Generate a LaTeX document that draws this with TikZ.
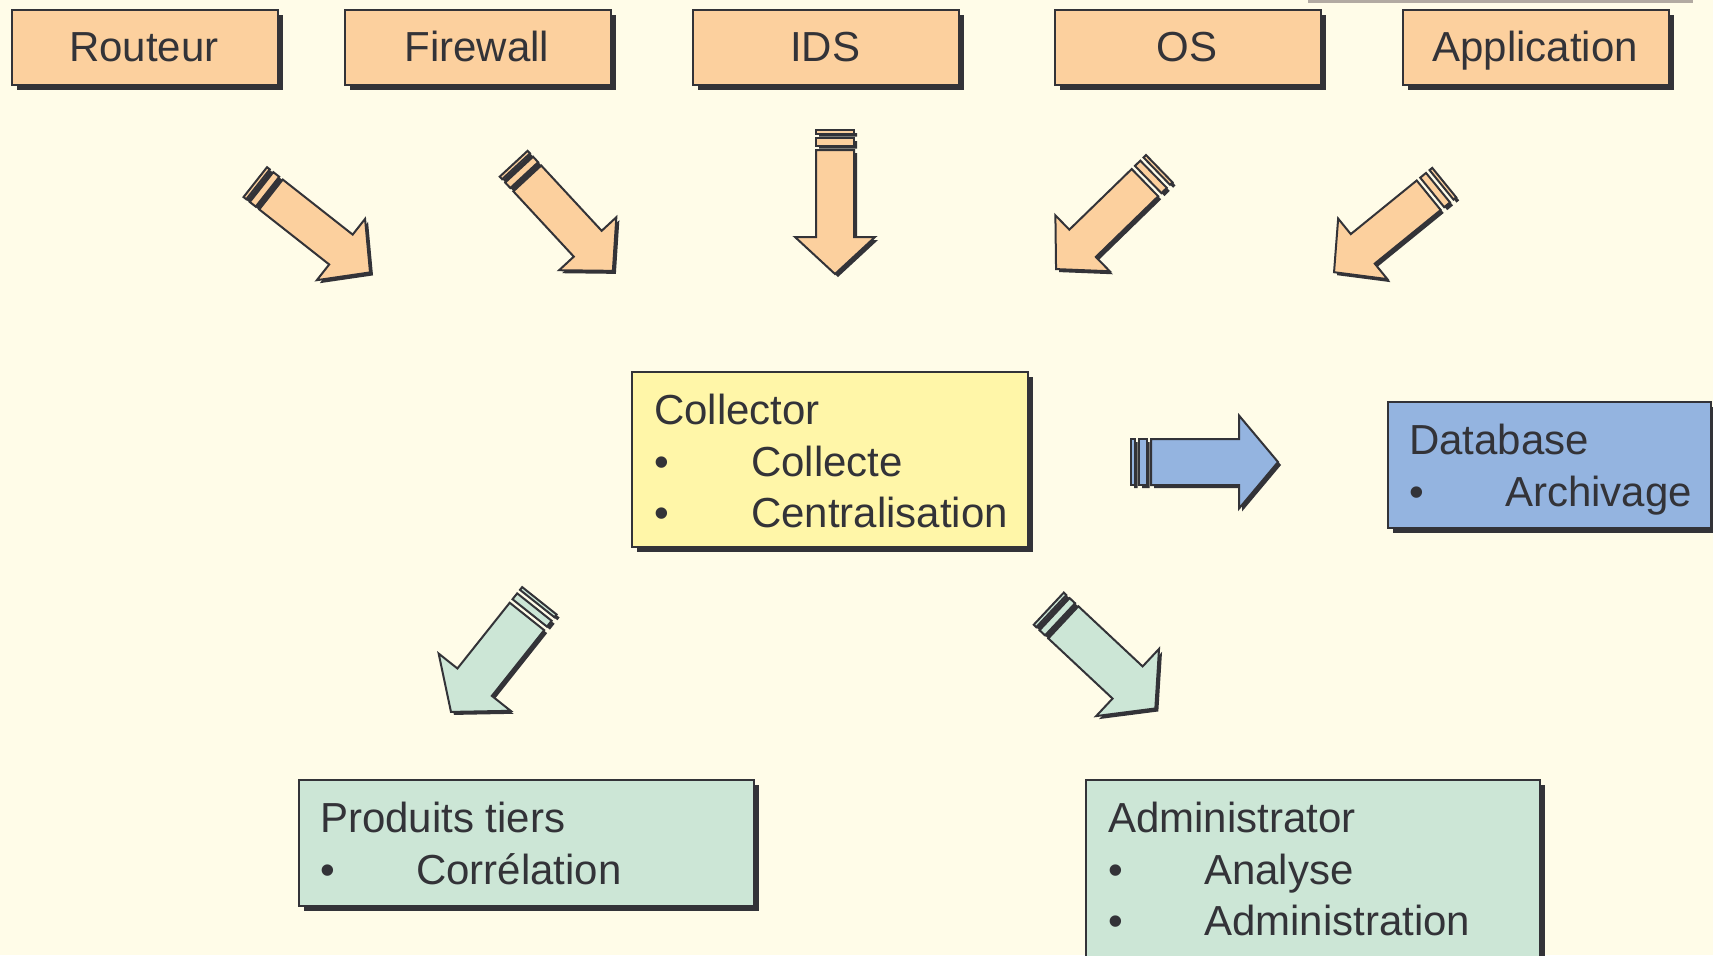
\documentclass[tikz,border=0pt]{standalone}
\usepackage{fontspec}
\setmainfont{Liberation Sans}
\usetikzlibrary{shadows}
\definecolor{bg}{RGB}{255,252,232}
\definecolor{dk}{RGB}{51,51,56}
\definecolor{orng}{RGB}{252,208,158}
\definecolor{yel}{RGB}{255,246,168}
\definecolor{blu}{RGB}{148,180,224}
\definecolor{grn}{RGB}{204,230,214}
\definecolor{graybar}{RGB}{178,170,162}
\newcommand\blkarrow[8]{% #1 x, #2 y, #3 angle, #4 length, #5 shaft half width, #6 head half width, #7 head length, #8 colour
  \pgfmathsetmacro\hb{#4-#7}%
  \begin{scope}[shift={(#1+3,#2+3)},rotate=-#3]
    \fill[dk] (1,-#5) rectangle (4.5,#5) (9,-#5) rectangle (16.5,#5);
    \fill[dk] (21,-#5) -- (\hb,-#5) -- (\hb,-#6) -- (#4,0) -- (\hb,#6) -- (\hb,#5) -- (21,#5) -- cycle;
  \end{scope}
  \begin{scope}[shift={(#1,#2)},rotate=-#3]
    \filldraw[fill=#8,draw=dk] (1,-#5) rectangle (4.5,#5) (9,-#5) rectangle (16.5,#5);
    \filldraw[fill=#8,draw=dk] (21,-#5) -- (\hb,-#5) -- (\hb,-#6) -- (#4,0) -- (\hb,#6) -- (\hb,#5) -- (21,#5) -- cycle;
  \end{scope}}
\tikzset{
  box/.style={draw=dk, line width=1pt, inner sep=0pt, anchor=north west,
    drop shadow={shadow xshift=2.5pt, shadow yshift=-2.5pt, fill=dk, opacity=1}},
  txt/.style={text=dk, font=\fontsize{21pt}{25pt}\selectfont, inner sep=0pt, anchor=base west},
  ctxt/.style={txt, anchor=base},
}
\begin{document}
\begin{tikzpicture}[x=0.5pt,y=-0.5pt,line width=1pt]
\useasboundingbox (0,0) rectangle (1713,955);
\fill[bg] (0,0) rectangle (1713,955);
\fill[graybar] (1308,0) rectangle (1693,3);

% top boxes
\node[box, fill=orng, minimum width=133pt, minimum height=37.5pt] (routeur) at (11,9) {};
\node[box, fill=orng, minimum width=133pt, minimum height=37.5pt] (firewall) at (344,9) {};
\node[box, fill=orng, minimum width=133pt, minimum height=37.5pt] (ids) at (692,9) {};
\node[box, fill=orng, minimum width=133pt, minimum height=37.5pt] (os) at (1054,9) {};
\node[box, fill=orng, minimum width=133pt, minimum height=37.5pt] (app) at (1402,9) {};
\node[ctxt] (troute) at (144,61.5) {Routeur};
\node[ctxt] (tfire) at (477,61.5) {Firewall};
\node[ctxt] (tids) at (825,61.5) {IDS};
\node[ctxt] (tos) at (1187,61.5) {OS};
\node[ctxt] (tapp) at (1535,61.5) {Application};

% orange arrows
\blkarrow{254.5}{181.5}{38.2}{147}{19}{39}{37}{orng}
\blkarrow{513}{163}{47.2}{147}{19}{39}{37}{orng}
\blkarrow{835}{129}{90}{145}{19}{40}{37}{orng}
\blkarrow{1160}{168}{135.8}{145}{19}{39}{37}{orng}
\blkarrow{1445}{182}{140.9}{143}{19}{39}{37}{orng}

% collector
\node[box, fill=yel, minimum width=198pt, minimum height=87.5pt] (coll) at (631,371) {};
\node[txt] (c1) at (653,424) {Collector};
\node[txt] (c2b) at (653,476) {•};
\node[txt] (c2) at (750,476) {Collecte};
\node[txt] (c3b) at (653,527) {•};
\node[txt] (c3) at (750,527) {Centralisation};

% blue arrow
\blkarrow{1130}{462}{0}{148}{23}{46.5}{39}{blu}

% database
\node[box, fill=blu, minimum width=161.5pt, minimum height=63pt] (db) at (1387,401) {};
\node[txt] (d1) at (1408,454) {Database};
\node[txt] (d2b) at (1408,506) {•};
\node[txt] (d2) at (1504,506) {Archivage};

% green arrows
\blkarrow{540}{600}{128.5}{143}{22}{46}{38}{grn}
\blkarrow{1048}{608}{43.1}{147}{22}{46}{38}{grn}

% produits tiers
\node[box, fill=grn, minimum width=227.5pt, minimum height=63pt] (prod) at (298,779) {};
\node[txt] (p1) at (319,832) {Produits tiers};
\node[txt] (p2b) at (319,884) {•};
\node[txt] (p2) at (415,884) {Corrélation};

% administrator
\node[box, fill=grn, minimum width=227pt, minimum height=110pt] (adm) at (1085,779) {};
\node[txt] (a1) at (1107,832) {Administrator};
\node[txt] (a2b) at (1107,884) {•};
\node[txt] (a2) at (1203,884) {Analyse};
\node[txt] (a3b) at (1107,935) {•};
\node[txt] (a3) at (1203,935) {Administration};
\end{tikzpicture}
\end{document}
